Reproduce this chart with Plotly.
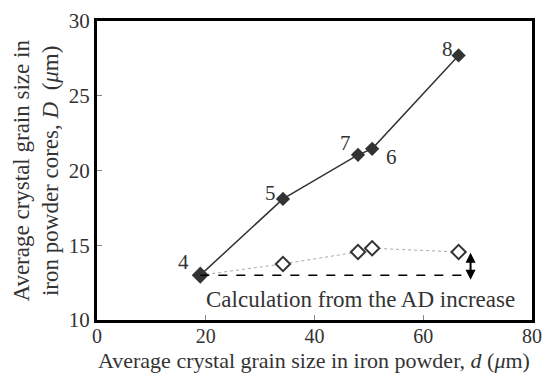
import plotly.graph_objects as go

# Data
d_core = [19.0, 34.2, 48.0, 50.6, 66.5]
D_core = [13.0, 18.1, 21.05, 21.45, 27.7]
point_labels = ["4", "5", "7", "6", "8"]
d_calc = [19.0, 34.2, 48.0, 50.6, 66.5]
D_calc = [13.0, 13.75, 14.55, 14.8, 14.55]
base_level = 13.0
dash_end = 68.7
arrow_range = [12.6, 14.5]
x_ticks = [0, 20, 40, 60, 80]
y_ticks = [10, 15, 20, 25, 30]

SERIF = "Liberation Serif, Times New Roman, serif"
DARK = "#333333"

fig = go.Figure()

fig.add_trace(go.Scatter(
    x=d_calc, y=D_calc, mode="lines+markers",
    line=dict(color="#aaaaaa", width=1, dash="dot"),
    marker=dict(symbol="diamond", size=11, color="white",
                line=dict(color=DARK, width=2)),
    showlegend=False, hoverinfo="skip"))

fig.add_trace(go.Scatter(
    x=d_core, y=D_core, mode="lines+markers",
    line=dict(color=DARK, width=1.5),
    marker=dict(symbol="diamond", size=11, color=DARK),
    showlegend=False, hoverinfo="skip"))

# point labels
offsets = {"4": (-17, 13), "5": (-12, 6), "7": (-13, 12), "6": (19, -8), "8": (-11, 6)}
for x, y, t in zip(d_core, D_core, point_labels):
    dx, dy = offsets[t]
    fig.add_annotation(x=x, y=y, text=t, showarrow=False, xshift=dx, yshift=dy,
                       font=dict(family=SERIF, size=21, color=DARK))

# dashed baseline
fig.add_shape(type="line", x0=d_core[0], x1=dash_end, y0=base_level, y1=base_level,
              line=dict(color="black", width=1.5, dash="dash"))

# double arrow
fig.add_annotation(x=dash_end, y=arrow_range[1], ax=dash_end, ay=arrow_range[0],
                   xref="x", yref="y", axref="x", ayref="y", text="",
                   showarrow=True, arrowhead=2, arrowside="end+start",
                   arrowsize=1, arrowwidth=2, arrowcolor="black")

fig.add_annotation(x=(204 - 97) / 5.44, y=11.35, xanchor="left", text="Calculation from the AD increase",
                   showarrow=False, font=dict(family=SERIF, size=23, color=DARK))

# y-axis title
fig.add_annotation(xref="paper", yref="paper", x=0, y=0.5, xshift=-61, xanchor="center",
                   yanchor="middle", textangle=-90, showarrow=False,
                   text="Average crystal grain size in<br>iron powder cores, <i>D</i>  (<i>μ</i>m)",
                   font=dict(family=SERIF, size=23, color=DARK))

# x-axis title
fig.add_annotation(xref="paper", yref="paper", x=0.498, y=0, yshift=-40, xanchor="center",
                   yanchor="middle", showarrow=False,
                   text="Average crystal grain size in iron powder, <i>d</i> (<i>μ</i>m)",
                   font=dict(family=SERIF, size=22, color=DARK))

fig.update_xaxes(range=[0, 80], tickvals=x_ticks, ticks="inside", ticklen=5, tickwidth=1,
                 tickcolor="#888", showline=True, linewidth=3, linecolor="black", mirror=True,
                 showgrid=False, zeroline=False, automargin=False, ticklabelstandoff=-4,
                 tickfont=dict(family=SERIF, size=20, color=DARK))
fig.update_yaxes(range=[10, 30], tickvals=y_ticks, ticks="inside", ticklen=5, tickwidth=1,
                 tickcolor="#888", showline=True, linewidth=3, linecolor="black", mirror=True,
                 showgrid=False, zeroline=False, automargin=False,
                 tickfont=dict(family=SERIF, size=21, color=DARK))

fig.update_layout(width=544, height=374, margin=dict(l=97, r=12, t=21, b=54),
                  plot_bgcolor="white", paper_bgcolor="white")

fig.write_html("out.html")
